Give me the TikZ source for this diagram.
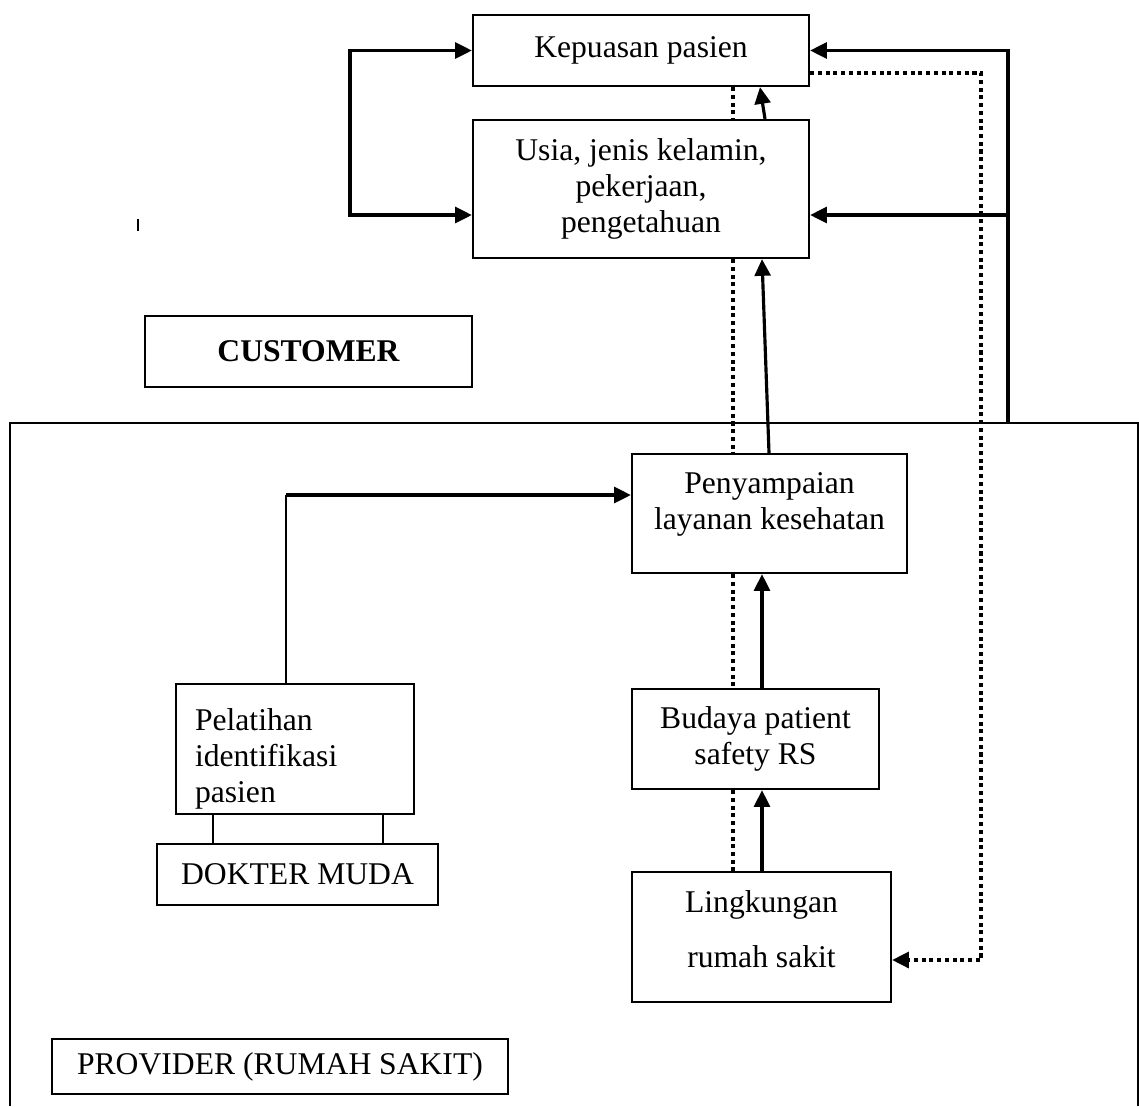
\documentclass[tikz,border=0pt]{standalone}
\usepackage{fontspec}
\setmainfont{Liberation Serif}
\usetikzlibrary{arrows.meta}

\tikzset{
  box/.style={draw, line width=1.3pt, align=center, inner sep=0pt},
  hd/.tip={Triangle[length=9.5pt,width=9pt]},
  arr/.style={line width=1.8pt, -{hd}},
  dotln/.style={line width=2pt, dash pattern=on 2.3pt off 2.1pt},
}

\begin{document}
\begin{tikzpicture}[x=0.02cm, y=-0.02cm, font=\fontsize{18}{20.7}\selectfont]
\useasboundingbox (0,0) rectangle (1139,1106);
% customer
\node[box, minimum width=6.72cm, minimum height=1.42cm] (kep) at (641,50.5) {Kepuasan pasien};
\node[box, minimum width=6.72cm, minimum height=2.76cm] (usia) at (641,189) {Usia, jenis kelamin,\\pekerjaan,\\pengetahuan};
\node[box, minimum width=6.54cm, minimum height=1.42cm, font=\fontsize{18}{20.7}\selectfont\bfseries] (cust) at (308.5,351.5) {CUSTOMER};
% provider
\draw[line width=1.1pt] (10,1106) -- (10,423) -- (1138,423) -- (1138,1106);
\node[box, minimum width=5.5cm, minimum height=2.38cm] (peny) at (769.5,513.5) {Penyampaian\\layanan kesehatan\\[-6.5pt]\mbox{}};
\node[box, minimum width=4.76cm, minimum height=2.6cm, text width=4.0cm, align=left] (pel) at (295,749) {\mbox{}\\[3pt]Pelatihan\\identifikasi\\pasien};
\node[box, minimum width=5.62cm, minimum height=1.22cm] (dok) at (297.5,874.5) {DOKTER MUDA};
\node[box, minimum width=4.94cm, minimum height=2.0cm] (bud) at (755.5,739) {Budaya patient\\safety RS};
\node[box, minimum width=5.18cm, minimum height=2.6cm] (ling) at (761.5,937) {Lingkungan\\[11pt]rumah sakit\\[-11.7pt]\mbox{}};
\node[box, minimum width=9.12cm, minimum height=1.1cm] (prov) at (280,1066.5) {PROVIDER (RUMAH SAKIT)};

\coordinate (tA) at (138,219);
\coordinate (tB) at (138,231);
\draw[line width=1.5pt] (tA) -- (tB);

% loops round the customer boxes
\coordinate (lp) at (350,215);
\draw[line width=1.8pt, {hd}-{hd}] (kep.west) -| (lp) -- (usia.west |- lp);
\coordinate (rTop) at (1008,50.5);
\coordinate (rMid) at (1008,215);
\coordinate (rBot) at (1008,423);
\draw[arr] (rBot) -- (rTop) -- (kep.east);
\draw[arr] (rMid) -- (usia.east |- rMid);
\coordinate (dTop) at (981,73);
\coordinate (dBot) at (981,960);
\draw[dotln, -{hd}] (kep.east |- dTop) -- (dTop) -- (dBot) -- (ling.east |- dBot);

% middle column
\coordinate (dc) at (733,0);
\foreach \a/\b in {kep/usia, usia/peny, peny/bud, bud/ling}
  \draw[dotln] (\a.south -| dc) -- (\b.north -| dc);
\coordinate (sc) at (762,0);
\coordinate (sA) at (769,0);
\coordinate (sB) at (765,0);
\coordinate (sC) at (760,0);
\draw[arr] (ling.north -| sc) -- (bud.south -| sc);
\draw[arr] (bud.north -| sc) -- (peny.south -| sc);
\draw[arr] (peny.north -| sA) -- (usia.south -| sc);
\draw[arr] (usia.north -| sB) -- (kep.south -| sC);

% pelatihan
\coordinate (pt) at (286,495);
\draw[line width=1pt] (pel.north -| pt) -- (pt);
\draw[arr] (pt) -- (peny.west |- pt);
\foreach \x in {213,383}
  \draw[line width=1.3pt] (pel.south -| \x,0) -- (dok.north -| \x,0);
\end{tikzpicture}
\end{document}
